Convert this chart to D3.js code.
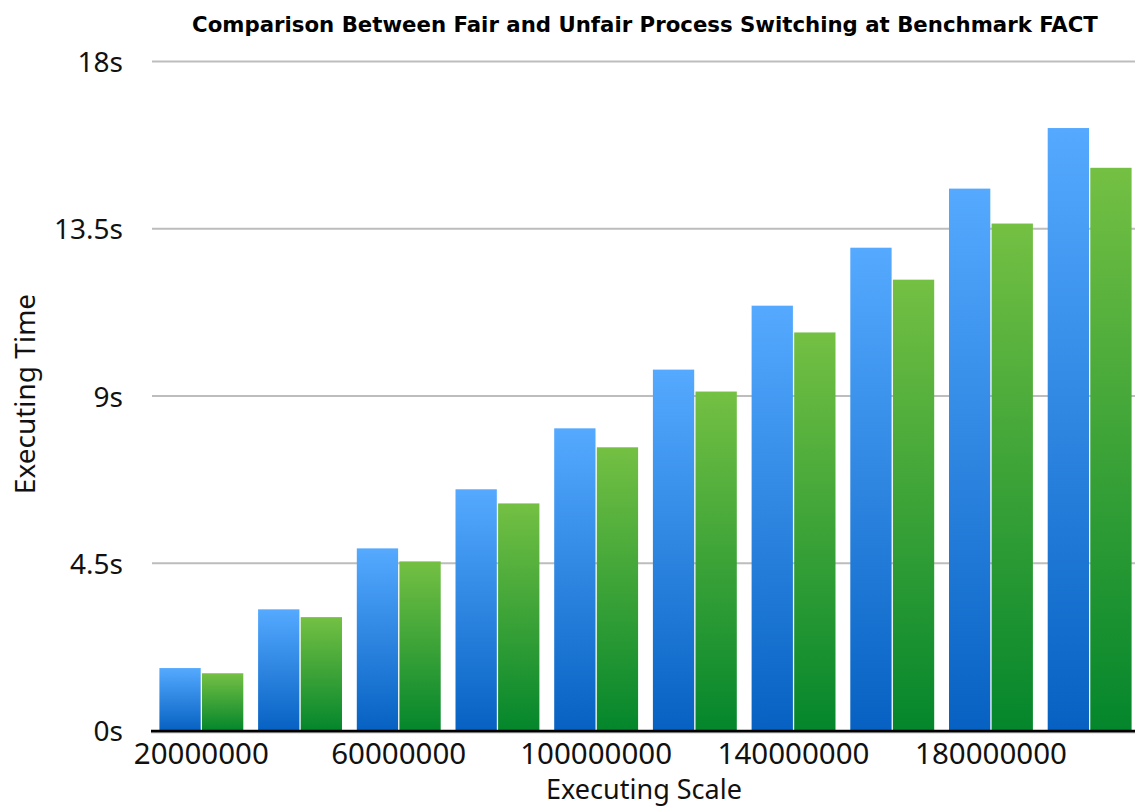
<!DOCTYPE html>
<html>
<head>
<meta charset="utf-8">
<script src="https://cdn.jsdelivr.net/npm/d3@7"></script>
<style>
  html, body { margin: 0; padding: 0; background: #fff; overflow: hidden; }
  svg { display: block; }
</style>
</head>
<body>
<svg id="chart" width="1135" height="807"></svg>
<script>
const categories = ["20000000","40000000","60000000","80000000","100000000","120000000","140000000","160000000","180000000","200000000"];
const seriesNames = ["Fair", "Unfair"];
const fairValues   = [1.68, 3.26, 4.90, 6.49, 8.13, 9.71, 11.43, 12.99, 14.58, 16.21];
const unfairValues = [1.54, 3.05, 4.55, 6.11, 7.62, 9.12, 10.71, 12.13, 13.64, 15.14];
const yTicks = [0, 4.5, 9, 13.5, 18];
const xTickLabels = ["20000000","60000000","100000000","140000000","180000000"];
const titleText = "Comparison Between Fair and Unfair Process Switching at Benchmark FACT";

const svg = d3.select("#chart");
const W = 1135, H = 807;
const plotLeft = 152, plotRight = 1139, plotTop = 61.5, plotBottom = 730.5;

const defs = svg.append("defs");
const grads = [
  {id: "gBlue", c1: "#55aaff", c2: "#0661c2"},
  {id: "gGreen", c1: "#74c043", c2: "#04862c"}
];
grads.forEach(g => {
  const lg = defs.append("linearGradient").attr("id", g.id)
    .attr("x1", 0).attr("y1", 0).attr("x2", 0).attr("y2", 1);
  lg.append("stop").attr("offset", "0%").attr("stop-color", g.c1);
  lg.append("stop").attr("offset", "100%").attr("stop-color", g.c2);
});

const x = d3.scaleBand().domain(categories).range([plotLeft, plotRight])
  .paddingInner(0.15).paddingOuter(0.075);
const xs = d3.scaleBand().domain(seriesNames).range([0, x.bandwidth()]).paddingInner(0.03);
const y = d3.scaleLinear().domain([0, 18]).range([plotBottom, plotTop]);

const font = "'Noto Sans', 'Liberation Sans', sans-serif";

// grid lines
svg.append("g").selectAll("line").data(yTicks.filter(t => t > 0)).join("line")
  .attr("x1", plotLeft).attr("x2", W)
  .attr("y1", d => y(d)).attr("y2", d => y(d))
  .attr("stroke", "#bdbdbd").attr("stroke-width", 2);

// y axis labels
const yAxis = d3.axisLeft(y).tickValues(yTicks).tickSize(0).tickPadding(0)
  .tickFormat(d => d + "s");
const gy = svg.append("g").attr("transform", `translate(123,0)`).call(yAxis);
gy.select(".domain").remove();
gy.selectAll("text").attr("font-family", font).attr("font-size", 28)
  .attr("fill", "#111").attr("dy", "0.36em");

// bars
const data = categories.map((c, i) => ({cat: c, vals: [
  {s: "Fair", v: fairValues[i], fill: "url(#gBlue)"},
  {s: "Unfair", v: unfairValues[i], fill: "url(#gGreen)"}
]}));
const groups = svg.append("g").selectAll("g").data(data).join("g")
  .attr("transform", d => `translate(${x(d.cat)},0)`);
groups.selectAll("rect").data(d => d.vals).join("rect")
  .attr("x", d => xs(d.s)).attr("width", xs.bandwidth())
  .attr("y", d => y(d.v)).attr("height", d => y(0) - y(d.v))
  .attr("fill", d => d.fill);

// x axis line with shadow
svg.append("line").attr("x1", plotLeft - 1).attr("x2", W)
  .attr("y1", plotBottom + 2).attr("y2", plotBottom + 2)
  .attr("stroke", "#999").attr("stroke-width", 1.5);
svg.append("line").attr("x1", plotLeft - 1).attr("x2", W)
  .attr("y1", plotBottom + 0.5).attr("y2", plotBottom + 0.5)
  .attr("stroke", "#000").attr("stroke-width", 2.5);

// x tick labels
const xAxis = d3.axisBottom(x).tickValues(xTickLabels).tickSize(0).tickPadding(0);
const gx = svg.append("g").attr("transform", `translate(0,${plotBottom})`).call(xAxis);
gx.select(".domain").remove();
gx.selectAll("text").attr("font-family", font).attr("font-size", 29.5)
  .attr("fill", "#111").attr("y", 33).attr("dy", 0);

// axis titles
svg.append("text").attr("x", 644).attr("y", 799).attr("text-anchor", "middle")
  .attr("font-family", font).attr("font-size", 27).attr("fill", "#111")
  .text("Executing Scale");
svg.append("text").attr("transform", "translate(35,394) rotate(-90)")
  .attr("text-anchor", "middle")
  .attr("font-family", font).attr("font-size", 28).attr("fill", "#111")
  .text("Executing Time");

// title (fit to reference width)
const t = svg.append("text").attr("x", 645).attr("y", 32).attr("text-anchor", "middle")
  .attr("font-family", "'DejaVu Sans', Verdana, sans-serif").attr("font-weight", "bold")
  .attr("font-size", 18).attr("fill", "#000").text(titleText);
const len = t.node().getComputedTextLength();
if (len > 0) t.attr("font-size", 18 * 906 / len);
</script>
</body>
</html>
